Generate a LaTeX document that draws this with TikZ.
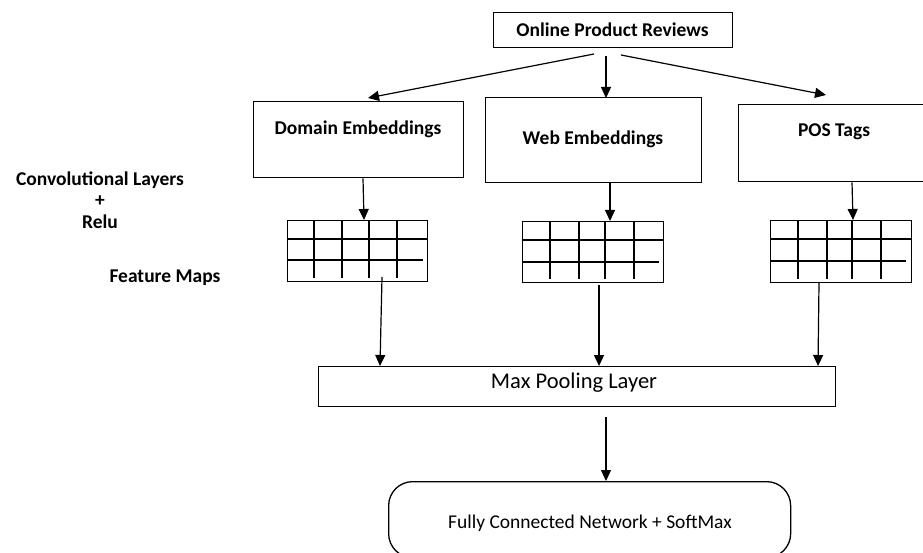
\documentclass[tikz,border=0pt]{standalone}
\usepackage{fontspec}
\setmainfont{Carlito}
\usetikzlibrary{arrows.meta,calc}
\begin{document}
\begin{tikzpicture}[x=1pt,y=-1pt,
  box/.style={draw,line width=1.3pt,inner sep=0pt,anchor=north west},
  lbl/.style={font=\bfseries\fontsize{19.5}{21}\selectfont,inner sep=0pt},
  arr/.style={line width=1.2pt,-{Triangle[length=11pt,width=10pt]}},
  gridbox/.style={draw,line width=1.3pt,inner sep=0pt,anchor=north west,minimum width=140pt,minimum height=61pt},
  gl/.style={line width=1.3pt}
]
\useasboundingbox (0,0) rectangle (923,553);
% top
\node[box,minimum width=239pt,minimum height=35pt] (opr) at (493,12) {};
\node[lbl] (oprt) at (612.5,30) {Online Product Reviews};
% embedding boxes
\node[box,minimum width=210pt,minimum height=76pt] (dom) at (253,101) {};
\node[lbl] (domt) at (358,129) {Domain Embeddings};
\node[box,minimum width=216pt,minimum height=85pt] (web) at (485,97) {};
\node[lbl] (webt) at (593,139) {Web Embeddings};
\node[box,minimum width=190pt,minimum height=77pt] (pos) at (738,104) {};
\node[lbl] (post) at (834,132) {POS Tags};
% arrows from top
\coordinate (s1) at (594,54);
\coordinate (s2) at (606,56);
\coordinate (s3) at (621,55);
\coordinate (t1) at (368,98);
\coordinate (t2) at (606,98);
\coordinate (t3) at (826,95);
\draw[arr] (s1) -- (t1);
\draw[arr] (s2) -- (t2);
\draw[arr] (s3) -- (t3);
% left labels
\node[lbl] (conv) at (100,180) {Convolutional Layers};
\node[lbl] (plus) at (100,201) {+};
\node[lbl] (relu) at (100,222) {Relu};
\node[lbl] (fmap) at (165,278) {Feature Maps};
% grids
\node[gridbox] (g1) at (287,220) {};
\draw[gl] (287,239) -- (428,239);
\draw[gl] (287,260) -- (423,260);
\foreach \x in {314,342,369,397} \draw[gl] (\x,220) -- (\x,278);
\node[gridbox,minimum width=141pt,minimum height=61pt] (g2) at (522,221) {};
\draw[gl] (522,240) -- (663,240);
\draw[gl] (522,262) -- (659,262);
\foreach \x in {550,579,605,634} \draw[gl] (\x,221) -- (\x,279);
\node[gridbox,minimum width=141pt,minimum height=62pt] (g3) at (770,220) {};
\draw[gl] (770,239) -- (911,239);
\draw[gl] (770,261) -- (906,261);
\foreach \x in {798,827,852,881} \draw[gl] (\x,220) -- (\x,279);
% arrows to grids
\draw[arr] ($(dom.south west)+(110,0)$) -- ($(g1.north west)+(77,0)$);
\draw[arr] ($(web.south west)+(125,0)$) -- ($(g2.north west)+(88,0)$);
\draw[arr] ($(pos.south west)+(114,0)$) -- ($(g3.north west)+(83,0)$);
% max pooling
\node[box,minimum width=517pt,minimum height=40pt] (mp) at (318,366) {};
\node[font=\fontsize{22.5}{24}\selectfont,inner sep=0pt] (mpt) at (574,383) {Max Pooling Layer};
\coordinate (b1) at (382,277);
\coordinate (b2) at (599,285);
\coordinate (b3) at (819,283);
\draw[arr] (b1) -- ($(mp.north west)+(62,0)$);
\draw[arr] (b2) -- ($(mp.north west)+(281,0)$);
\draw[arr] (b3) -- ($(mp.north west)+(500,0)$);
% fully connected
\node[box,rounded corners=24pt,minimum width=402pt,minimum height=76pt] (fc) at (388,481) {};
\node[font=\fontsize{19.5}{21}\selectfont,inner sep=0pt] (fct) at (590,523) {Fully Connected Network + SoftMax};
\coordinate (c1) at (606,417);
\draw[arr] (c1) -- (fc.north -| c1);
\end{tikzpicture}
\end{document}
